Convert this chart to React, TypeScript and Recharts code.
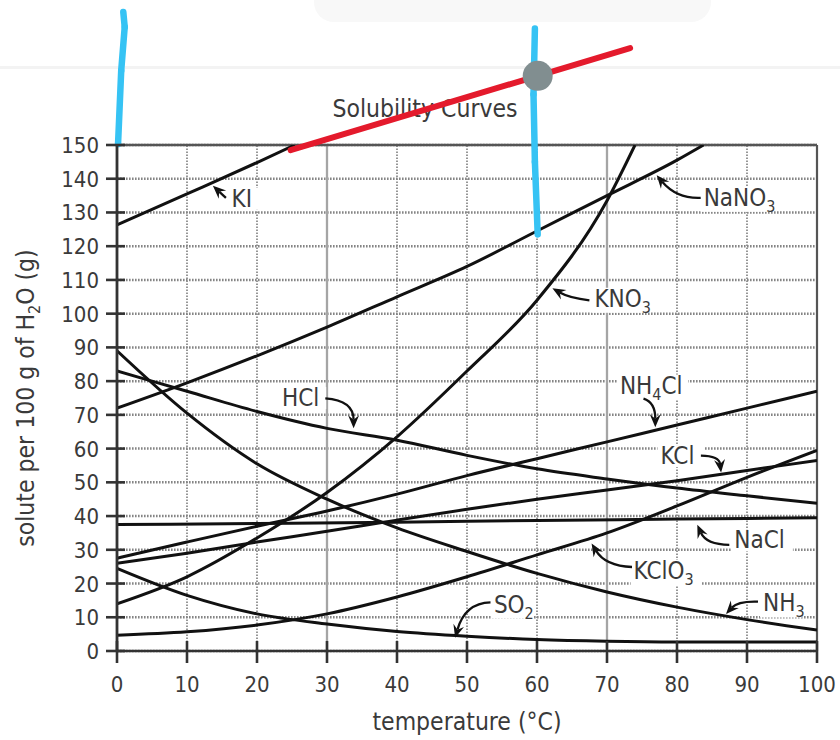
import React from 'react';
import {
  LineChart,
  Line,
  XAxis,
  YAxis,
  CartesianGrid,
  ReferenceLine,
  ReferenceDot,
} from 'recharts';

// ---------- data ----------
const TEMP_TICKS = [0, 10, 20, 30, 40, 50, 60, 70, 80, 90, 100];
const SOLUTE_TICKS = [0, 10, 20, 30, 40, 50, 60, 70, 80, 90, 100, 110, 120, 130, 140, 150];
const VERTICAL_GRID = [10, 20, 30, 40, 50, 60, 70, 80, 90];
const SOLID_VERTICALS = [30, 70];

const KI = [
  { t: 0, g: 126.3 }, { t: 10, g: 135.5 }, { t: 20, g: 144.8 }, { t: 25.4, g: 150 },
];
const NANO3 = [
  { t: 0, g: 72 }, { t: 10, g: 79.5 }, { t: 20, g: 87.5 }, { t: 30, g: 96 }, { t: 40, g: 105 },
  { t: 50, g: 114 }, { t: 60, g: 124.5 }, { t: 70, g: 135 }, { t: 80, g: 145.5 }, { t: 83.8, g: 150 },
];
const KNO3 = [
  { t: 0, g: 14 }, { t: 10, g: 22 }, { t: 20, g: 33.5 }, { t: 30, g: 47 }, { t: 40, g: 63.5 },
  { t: 50, g: 83 }, { t: 60, g: 104 }, { t: 70, g: 133.5 }, { t: 74, g: 150 },
];
const HCL = [
  { t: 0, g: 83 }, { t: 10, g: 77 }, { t: 20, g: 71 }, { t: 30, g: 66 }, { t: 40, g: 62.5 },
  { t: 50, g: 58 }, { t: 60, g: 54 }, { t: 70, g: 51 }, { t: 80, g: 48.3 }, { t: 90, g: 46 }, { t: 100, g: 43.8 },
];
const NH4CL = [
  { t: 0, g: 27.5 }, { t: 10, g: 32.3 }, { t: 20, g: 37 }, { t: 30, g: 41.5 }, { t: 40, g: 46.5 },
  { t: 50, g: 52 }, { t: 60, g: 57 }, { t: 70, g: 62 }, { t: 80, g: 67 }, { t: 90, g: 72 }, { t: 100, g: 77 },
];
const KCL = [
  { t: 0, g: 26 }, { t: 10, g: 29 }, { t: 20, g: 32.3 }, { t: 30, g: 35.5 }, { t: 40, g: 38.8 },
  { t: 50, g: 42 }, { t: 60, g: 45 }, { t: 70, g: 47.7 }, { t: 80, g: 50.5 }, { t: 90, g: 53.5 }, { t: 100, g: 56.5 },
];
const NACL = [
  { t: 0, g: 37.5 }, { t: 20, g: 37.8 }, { t: 40, g: 38.2 }, { t: 60, g: 38.7 }, { t: 80, g: 39.1 }, { t: 100, g: 39.5 },
];
const KCLO3 = [
  { t: 0, g: 4.7 }, { t: 10, g: 5.7 }, { t: 20, g: 7.7 }, { t: 30, g: 11 }, { t: 40, g: 16 },
  { t: 50, g: 22 }, { t: 60, g: 28.5 }, { t: 70, g: 35 }, { t: 80, g: 43 }, { t: 90, g: 51.5 }, { t: 100, g: 59.5 },
];
const NH3 = [
  { t: 0, g: 89 }, { t: 10, g: 70.5 }, { t: 20, g: 55.5 }, { t: 30, g: 45 }, { t: 40, g: 36.5 },
  { t: 50, g: 29.5 }, { t: 60, g: 23 }, { t: 70, g: 17.5 }, { t: 80, g: 13 }, { t: 90, g: 9.3 }, { t: 100, g: 6.2 },
];
const SO2 = [
  { t: 0, g: 24.5 }, { t: 10, g: 16.5 }, { t: 20, g: 11 }, { t: 30, g: 8 }, { t: 40, g: 5.8 },
  { t: 50, g: 4.4 }, { t: 60, g: 3.4 }, { t: 70, g: 2.9 }, { t: 80, g: 2.7 }, { t: 90, g: 2.7 }, { t: 100, g: 2.7 },
];

const SERIES = [
  { id: 'KI', data: KI },
  { id: 'NaNO3', data: NANO3 },
  { id: 'KNO3', data: KNO3 },
  { id: 'HCl', data: HCL },
  { id: 'NH4Cl', data: NH4CL },
  { id: 'KCl', data: KCL },
  { id: 'NaCl', data: NACL },
  { id: 'KClO3', data: KCLO3 },
  { id: 'NH3', data: NH3 },
  { id: 'SO2', data: SO2 },
];

// curve labels: text parts (subscript flag) and the point on the curve the arrow points to
const CURVE_LABELS = [
  { id: 'KI', parts: [['KI', false]], tip: { t: 13.7, g: 137.9 } },
  { id: 'NaNO3', parts: [['NaNO', false], ['3', true]], tip: { t: 77.1, g: 141.0 } },
  { id: 'KNO3', parts: [['KNO', false], ['3', true]], tip: { t: 62.2, g: 107.5 } },
  { id: 'HCl', parts: [['HCl', false]], tip: { t: 33.8, g: 66.0 } },
  { id: 'NH4Cl', parts: [['NH', false], ['4', true], ['Cl', false]], tip: { t: 76.9, g: 66.35 } },
  { id: 'KCl', parts: [['KCl', false]], tip: { t: 86.3, g: 52.9 } },
  { id: 'NaCl', parts: [['NaCl', false]], tip: { t: 82.9, g: 37.4 } },
  { id: 'KClO3', parts: [['KClO', false], ['3', true]], tip: { t: 67.8, g: 31.9 } },
  { id: 'NH3', parts: [['NH', false], ['3', true]], tip: { t: 87.0, g: 11.0 } },
  { id: 'SO2', parts: [['SO', false], ['2', true]], tip: { t: 48.3, g: 3.9 } },
];

// hand-drawn marks on top of the chart (data units)
const RED_STROKE = [{ t: 24.8, g: 148.5 }, { t: 73.3, g: 178.7 }];
const BLUE_LEFT = [{ t: 0.9, g: 189.4 }, { t: 1.1, g: 185 }, { t: 0.6, g: 172 }, { t: 0.15, g: 150.3 }];
const BLUE_RIGHT = [{ t: 59.7, g: 184.5 }, { t: 59.5, g: 165 }, { t: 59.7, g: 145 }, { t: 60.1, g: 123.5 }];
const GREY_DOT = { t: 60.1, g: 170.5 };

// ---------- layout / style ----------
const FONT = "'DejaVu Sans Condensed', 'DejaVu Sans', sans-serif";
const TXT = '#3a3a3a';
const INK = '#111';
const Y_TICK_SIZE = 11;
const Y_TICK_MARGIN = 7;
const Y_TICK_IN = 8;
const X_TICK_SIZE = 12;
const X_TICK_MARGIN = 4;
const X_TICK_IN = 10;

// pixel offsets relative to arrow tip: text (left, baseline), arrow tail, curve control
const LABEL_LAYOUT: Record<string, { text: number[]; tail: number[]; ctrl: number[] }> = {
  KI: { text: [18.7, 21], tail: [13, 12], ctrl: [6.5, 6] },
  NaNO3: { text: [47, 30.5], tail: [44, 22.5], ctrl: [20, 23.5] },
  KNO3: { text: [42, 18.4], tail: [37, 12], ctrl: [17, 9.7] },
  HCl: { text: [-71.6, -22.3], tail: [-28.3, -30], ctrl: [0, -28] },
  NH4Cl: { text: [-35.4, -33.6], tail: [-11.8, -28.6], ctrl: [0, -25] },
  KCl: { text: [-60.6, -8.4], tail: [-20.2, -16.9], ctrl: [-2, -16.7] },
  NaCl: { text: [37, 23.6], tail: [32, 20], ctrl: [9, 20] },
  KClO3: { text: [42, 35.6], tail: [40.4, 23.6], ctrl: [13.6, 22.6] },
  NH3: { text: [37, -2.4], tail: [32, -12.3], ctrl: [12, -13] },
  SO2: { text: [38.8, -25.3], tail: [35.4, -35.4], ctrl: [10, -34.7] },
};

const LABEL_FONT = 24;
const SUB_FONT = 16;

function CurveLabel(props: any) {
  const { cx, cy, cfg } = props;
  if (cx == null || cy == null) return null;
  const L = LABEL_LAYOUT[cfg.id];
  const tail = [cx + L.tail[0], cy + L.tail[1]];
  const ctrl = [cx + L.ctrl[0], cy + L.ctrl[1]];
  let ux = cx - ctrl[0];
  let uy = cy - ctrl[1];
  const len = Math.hypot(ux, uy) || 1;
  ux /= len;
  uy /= len;
  const HL = 13;
  const HW = 5.5;
  const NOTCH = 4.5;
  const bx = cx - HL * ux;
  const by = cy - HL * uy;
  const nx = -uy;
  const ny = ux;
  const left = [bx + HW * nx, by + HW * ny];
  const right = [bx - HW * nx, by - HW * ny];
  const notch = [cx - (HL - NOTCH) * ux, cy - (HL - NOTCH) * uy];
  const tx = cx + L.text[0];
  const ty = cy + L.text[1];
  let w = 0;
  let hasSub = false;
  cfg.parts.forEach(([s, sub]: [string, boolean]) => {
    w += s.length * (sub ? SUB_FONT : LABEL_FONT) * 0.6;
    if (sub) hasSub = true;
  });
  let shifted = false;
  return (
    <g>
      <rect x={tx - 3} y={ty - 19} width={w + 4} height={hasSub ? 25 : 22} fill="#fff" />
      <path
        d={`M${tail[0]},${tail[1]} Q${ctrl[0]},${ctrl[1]} ${notch[0]},${notch[1]}`}
        fill="none"
        stroke={INK}
        strokeWidth={2.3}
      />
      <path
        d={`M${cx},${cy} L${left[0]},${left[1]} L${notch[0]},${notch[1]} L${right[0]},${right[1]} Z`}
        fill={INK}
      />
      <text x={tx} y={ty} fontFamily={FONT} fontSize={LABEL_FONT} fill={TXT}>
        {cfg.parts.map(([s, sub]: [string, boolean], i: number) => {
          let dy = 0;
          if (sub && !shifted) {
            dy = 6;
            shifted = true;
          } else if (!sub && shifted) {
            dy = -6;
            shifted = false;
          }
          return (
            <tspan key={i} dy={dy} fontSize={sub ? SUB_FONT : LABEL_FONT}>
              {s}
            </tspan>
          );
        })}
      </text>
    </g>
  );
}

function YTick(props: any) {
  const { x, y, payload } = props;
  const axisX = x + Y_TICK_MARGIN + Y_TICK_SIZE;
  return (
    <g>
      <line x1={axisX - Y_TICK_SIZE} x2={axisX + Y_TICK_IN} y1={y} y2={y} stroke="#333" strokeWidth={2.6} />
      <text x={x} y={y} dy={8} textAnchor="end" fontFamily={FONT} fontSize={22} fill={TXT}>
        {payload.value}
      </text>
    </g>
  );
}

function XTick(props: any) {
  const { x, y, payload } = props;
  const axisY = y - X_TICK_MARGIN - X_TICK_SIZE;
  return (
    <g>
      <line x1={x} x2={x} y1={axisY - X_TICK_IN} y2={axisY + X_TICK_SIZE} stroke="#333" strokeWidth={2.6} />
      <text x={x} y={y} dy={25} textAnchor="middle" fontFamily={FONT} fontSize={22} fill={TXT}>
        {payload.value}
      </text>
    </g>
  );
}

function YTitle(props: any) {
  const vb = props.viewBox || {};
  const cx = vb.x - 3;
  const cy = vb.y + vb.height / 2;
  return (
    <text
      x={cx}
      y={cy}
      textAnchor="middle"
      transform={`rotate(-90, ${cx}, ${cy})`}
      fontFamily={FONT}
      fontSize={24.5}
      fill={TXT}
    >
      <tspan>solute per 100 g of H</tspan>
      <tspan dy={6} fontSize={16}>2</tspan>
      <tspan dy={-6}>O (g)</tspan>
    </text>
  );
}

function XTitle(props: any) {
  const vb = props.viewBox || {};
  return (
    <text x={vb.x + vb.width / 2} y={730} textAnchor="middle" fontFamily={FONT} fontSize={24.5} fill={TXT}>
      temperature (°C)
    </text>
  );
}

function segs(points: { t: number; g: number }[]) {
  const out: { x: number; y: number }[][] = [];
  for (let i = 0; i < points.length - 1; i++) {
    out.push([
      { x: points[i].t, y: points[i].g },
      { x: points[i + 1].t, y: points[i + 1].g },
    ]);
  }
  return out;
}

export default function App() {
  return (
    <div style={{ position: 'absolute', left: 0, top: 0, width: 840, height: 740, background: '#fff', overflow: 'hidden' }}>
      <svg width={840} height={740} style={{ position: 'absolute', left: 0, top: 0 }}>
        <rect x={314} y={-30} width={397} height={52} rx={20} fill="#f8f8f8" />
        <rect x={0} y={66} width={840} height={3} fill="#f3f3f3" />
        <text x={425} y={117} textAnchor="middle" fontFamily={FONT} fontSize={24.5} fill={TXT}>
          Solubility Curves
        </text>
      </svg>
      <div style={{ position: 'absolute', left: 0, top: 0 }}>
        <LineChart width={840} height={740} margin={{ top: 145, right: 23, left: 37, bottom: 29 }}>
          <CartesianGrid vertical={false} stroke="#858585" strokeWidth={2.5} strokeDasharray="1.6 1.4" />
          {VERTICAL_GRID.map((v) =>
            SOLID_VERTICALS.includes(v) ? (
              <ReferenceLine key={'v' + v} x={v} stroke="#a5a5a5" strokeWidth={2.3} />
            ) : (
              <ReferenceLine key={'v' + v} x={v} stroke="#858585" strokeWidth={1.7} strokeDasharray="1.6 1.4" />
            )
          )}
          <ReferenceLine y={150} stroke="#555" strokeWidth={2.4} />
          <ReferenceLine x={100} stroke="#555" strokeWidth={2.2} />
          <XAxis
            type="number"
            dataKey="t"
            domain={[0, 100]}
            ticks={TEMP_TICKS}
            interval={0}
            allowDataOverflow
            height={60}
            tickSize={X_TICK_SIZE}
            tickMargin={X_TICK_MARGIN}
            tickLine={false}
            axisLine={{ stroke: '#333', strokeWidth: 2.6 }}
            tick={<XTick />}
            label={{ content: <XTitle /> } as any}
          />
          <YAxis
            type="number"
            domain={[0, 150]}
            ticks={SOLUTE_TICKS}
            interval={0}
            allowDataOverflow
            width={80}
            tickSize={Y_TICK_SIZE}
            tickMargin={Y_TICK_MARGIN}
            tickLine={false}
            axisLine={{ stroke: '#333', strokeWidth: 2.8 }}
            tick={<YTick />}
            label={{ content: <YTitle /> } as any}
          />
          {SERIES.map((s) => (
            <Line
              key={s.id}
              name={s.id}
              data={s.data}
              dataKey="g"
              type="monotone"
              stroke={INK}
              strokeWidth={3}
              dot={false}
              activeDot={false}
              isAnimationActive={false}
            />
          ))}
          {CURVE_LABELS.map((c) => (
            <ReferenceDot
              key={'lab' + c.id}
              x={c.tip.t}
              y={c.tip.g}
              r={0}
              ifOverflow="visible"
              shape={(p: any) => <CurveLabel {...p} cfg={c} />}
            />
          ))}
          {segs(RED_STROKE).map((sg, i) => (
            <ReferenceLine
              key={'red' + i}
              segment={sg}
              ifOverflow="visible"
              stroke="#e41a2c"
              strokeWidth={6}
              strokeLinecap="round"
            />
          ))}
          {segs(BLUE_LEFT).map((sg, i) => (
            <ReferenceLine
              key={'bl' + i}
              segment={sg}
              ifOverflow="visible"
              stroke="#36c3f4"
              strokeWidth={6.5}
              strokeLinecap="round"
            />
          ))}
          {segs(BLUE_RIGHT).map((sg, i) => (
            <ReferenceLine
              key={'br' + i}
              segment={sg}
              ifOverflow="visible"
              stroke="#36c3f4"
              strokeWidth={6.5}
              strokeLinecap="round"
            />
          ))}
          <ReferenceDot
            x={GREY_DOT.t}
            y={GREY_DOT.g}
            r={15}
            ifOverflow="visible"
            fill="#818e90"
            stroke="none"
          />
        </LineChart>
      </div>
    </div>
  );
}
